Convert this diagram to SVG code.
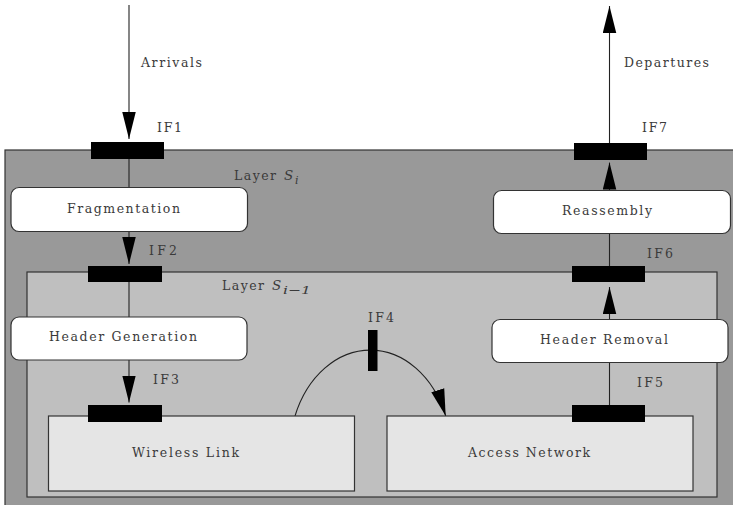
<svg xmlns="http://www.w3.org/2000/svg" width="733" height="505" viewBox="0 0 733 505">
<style>
text{font-family:"DejaVu Serif","Liberation Serif",serif;font-size:12.5px;fill:#3a3a3a;}
.layer1{fill:#999999;stroke:#333;stroke-width:1.2;}
.layer2{fill:#bfbfbf;stroke:#333;stroke-width:1.2;}
.proc{fill:#ffffff;stroke:#333;stroke-width:1.2;}
.link{fill:#e5e5e5;stroke:#333;stroke-width:1.2;}
.bar{fill:#000;}
.conn{fill:none;stroke:#222;stroke-width:1.1;}
.arr{marker-end:url(#ah);}
.it{font-style:italic;font-size:13.5px;}
.sub{font-size:11px;font-style:italic;}
</style>
<defs>
<marker id="ah" markerUnits="userSpaceOnUse" markerWidth="27" markerHeight="14" viewBox="0 0 26 13" refX="26" refY="6.5" orient="auto">
<path d="M0,0 L26,6.5 L0,13 Z" fill="#000"/>
</marker>
</defs>

<g id="layer-si">
<rect class="layer1" x="5" y="150" width="740" height="362"/>
<text x="234" y="180" textLength="42" lengthAdjust="spacing">Layer</text>
<text class="it" x="284" y="180">S</text>
<text class="sub" x="295" y="183.5">i</text>
</g>
<g id="layer-si-1">
<rect class="layer2" x="27" y="272" width="690" height="225"/>
<text x="222" y="290" textLength="42" lengthAdjust="spacing">Layer</text>
<text class="it" x="272" y="290">S</text>
<text class="sub" x="283" y="293.5" textLength="28" lengthAdjust="spacingAndGlyphs">i−1</text>
</g>

<g id="connectors">
<path class="conn arr" d="M129,5 L129,139"/>
<path class="conn" d="M129,159 L129,187.5"/>
<path class="conn arr" d="M129,231.5 L129,264"/>
<path class="conn" d="M129,282 L129,317"/>
<path class="conn arr" d="M129,360 L129,402.5"/>
<path class="conn arr" d="M295,416 A81,104 0 0 1 445.7,416"/>
<path class="conn" d="M609.5,405 L609.5,362.5"/>
<path class="conn arr" d="M609.5,319.5 L609.5,287"/>
<path class="conn" d="M609.5,266 L609.5,233.5"/>
<path class="conn arr" d="M609.5,190.5 L609.5,162.5"/>
<path class="conn arr" d="M609.5,143 L609.5,6"/>
<text x="141" y="67" textLength="61" lengthAdjust="spacing">Arrivals</text>
<text x="624" y="67" textLength="85" lengthAdjust="spacing">Departures</text>
</g>

<g id="fragmentation">
<rect class="proc" x="11" y="187.5" width="236.5" height="44" rx="8"/>
<text x="67" y="212.5" textLength="113" lengthAdjust="spacing">Fragmentation</text>
</g>
<g id="reassembly">
<rect class="proc" x="493.5" y="190.5" width="237" height="43" rx="8"/>
<text x="562" y="215" textLength="90" lengthAdjust="spacing">Reassembly</text>
</g>
<g id="header-generation">
<rect class="proc" x="11" y="317" width="236" height="43" rx="8"/>
<text x="49" y="341" textLength="148" lengthAdjust="spacing">Header Generation</text>
</g>
<g id="header-removal">
<rect class="proc" x="492" y="319.5" width="236" height="43" rx="8"/>
<text x="540" y="344" textLength="128" lengthAdjust="spacing">Header Removal</text>
</g>
<g id="wireless-link">
<rect class="link" x="48.5" y="416" width="306" height="75"/>
<text x="132" y="457" textLength="107" lengthAdjust="spacing">Wireless Link</text>
</g>
<g id="access-network">
<rect class="link" x="387" y="416" width="306" height="75"/>
<text x="468" y="457" textLength="122" lengthAdjust="spacing">Access Network</text>
</g>

<g id="if1">
<rect class="bar" x="91" y="142" width="73" height="17"/>
<text x="157" y="132" textLength="25" lengthAdjust="spacing">IF1</text>
</g>
<g id="if2">
<rect class="bar" x="88" y="266" width="74" height="16"/>
<text x="149" y="255" textLength="28" lengthAdjust="spacing">IF2</text>
</g>
<g id="if3">
<rect class="bar" x="88" y="405" width="74" height="17"/>
<text x="153" y="384" textLength="26" lengthAdjust="spacing">IF3</text>
</g>
<g id="if4">
<rect class="bar" x="368" y="330" width="9.5" height="41"/>
<text x="368" y="322" textLength="26" lengthAdjust="spacing">IF4</text>
</g>
<g id="if5">
<rect class="bar" x="572" y="405" width="73" height="17"/>
<text x="637" y="387" textLength="26" lengthAdjust="spacing">IF5</text>
</g>
<g id="if6">
<rect class="bar" x="572" y="266" width="73" height="16"/>
<text x="647" y="258" textLength="26" lengthAdjust="spacing">IF6</text>
</g>
<g id="if7">
<rect class="bar" x="574" y="143" width="73" height="17"/>
<text x="642" y="132" textLength="25" lengthAdjust="spacing">IF7</text>
</g>
</svg>
